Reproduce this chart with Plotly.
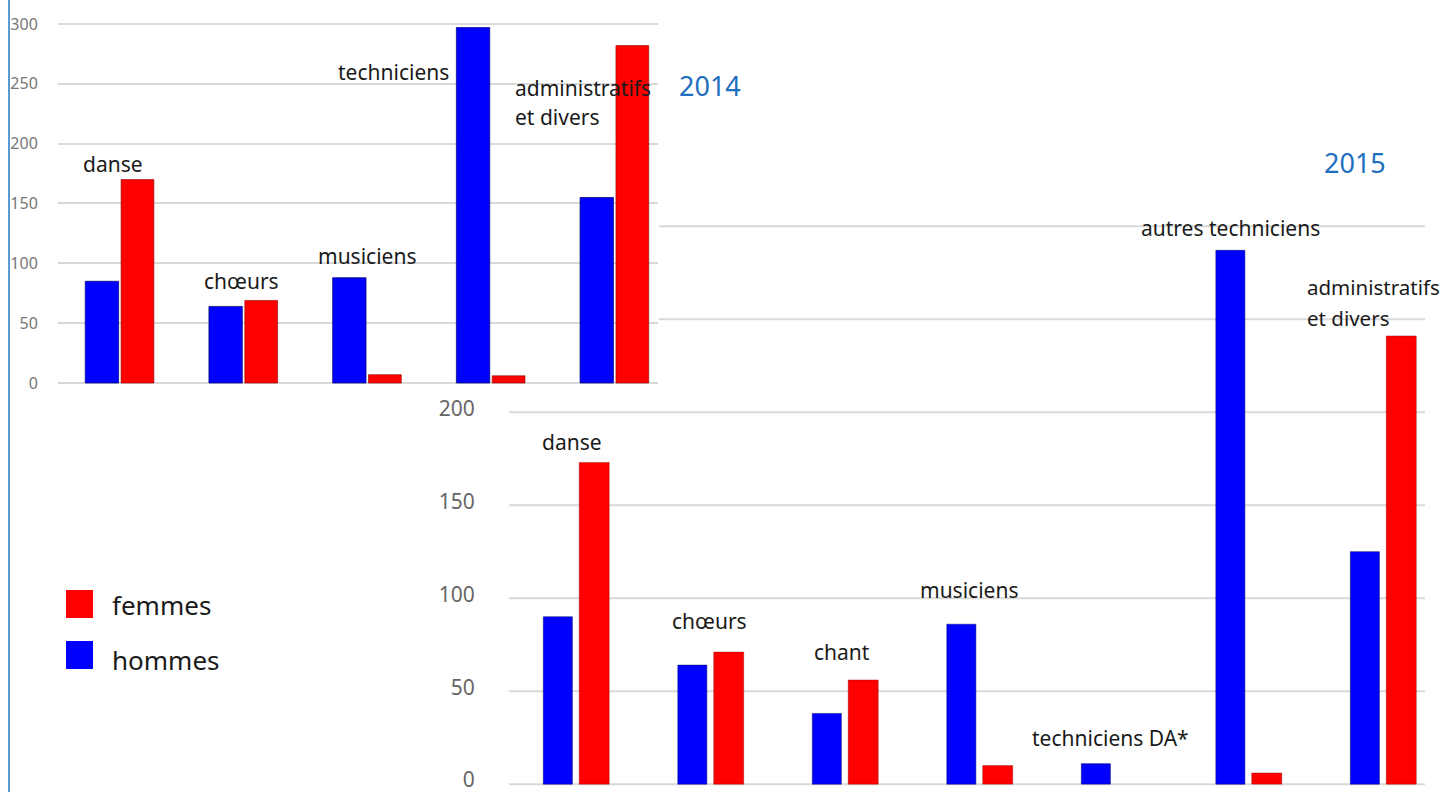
import plotly.graph_objects as go

# ---------------- data ----------------
cats_2014 = ["danse", "chœurs", "musiciens", "techniciens", "administratifs et divers"]
hommes_2014 = [85, 64, 88, 297, 155]
femmes_2014 = [170, 69, 7, 6, 282]

cats_2015 = ["danse", "chœurs", "chant", "musiciens", "techniciens DA*",
             "autres techniciens", "administratifs et divers"]
hommes_2015 = [90, 64, 38, 86, 11, 287, 125]
femmes_2015 = [173, 71, 56, 10, None, 6, 241]

ticks_2014 = [0, 50, 100, 150, 200, 250, 300]
ticks_2015 = [0, 50, 100, 150, 200]
grid_2015_upper = [250, 300]

BLUE = "#0000FF"
RED = "#FF0000"
W, H = 1445, 792
LABEL_FONT = "Noto Sans"


def px(x):
    return x / W


def py(y):
    return 1 - y / H


fig = go.Figure()

# 2014 chart (x2 / y2)
fig.add_trace(go.Bar(x=cats_2014, y=hommes_2014, name="hommes", xaxis="x2", yaxis="y2",
                     marker=dict(color=BLUE, line=dict(color="rgba(0,0,110,0.7)", width=1)),
                     offset=-0.28, width=0.27, showlegend=False))
fig.add_trace(go.Bar(x=cats_2014, y=femmes_2014, name="femmes", xaxis="x2", yaxis="y2",
                     marker=dict(color=RED, line=dict(color="rgba(140,0,0,0.6)", width=1)),
                     offset=0.01, width=0.265, showlegend=False))

# 2015 chart (x / y)
fig.add_trace(go.Bar(x=cats_2015, y=hommes_2015, name="hommes", xaxis="x", yaxis="y",
                     marker=dict(color=BLUE, line=dict(color="rgba(0,0,110,0.5)", width=1)),
                     offset=-0.245, width=0.216, showlegend=False))
fig.add_trace(go.Bar(x=cats_2015, y=femmes_2015, name="femmes", xaxis="x", yaxis="y",
                     marker=dict(color=RED, line=dict(color="rgba(140,0,0,0.4)", width=1)),
                     offset=0.022, width=0.223, showlegend=False))

shapes = []
# 2015 gridlines
for v in ticks_2015:
    shapes.append(dict(type="line", xref="x domain", yref="y", x0=0, x1=1, y0=v, y1=v,
                       line=dict(color="#d9d9d9", width=2), layer="below"))
for v in grid_2015_upper:
    shapes.append(dict(type="line", xref="x domain", yref="y", x0=(659 - 509) / (1425 - 509), x1=1,
                       y0=v, y1=v, line=dict(color="#d9d9d9", width=2), layer="below"))
# left border line
shapes.append(dict(type="line", xref="paper", yref="paper", x0=px(9), x1=px(9), y0=0, y1=1,
                   line=dict(color="#5B9BD5", width=2)))
# legend swatches
shapes.append(dict(type="rect", xref="paper", yref="paper", x0=px(66), x1=px(93), y0=py(618), y1=py(590),
                   fillcolor=RED, line=dict(width=0)))
shapes.append(dict(type="rect", xref="paper", yref="paper", x0=px(66), x1=px(93), y0=py(669), y1=py(641),
                   fillcolor=BLUE, line=dict(width=0)))

annotations = []


def lab(text, x, y, size=21, color="#1a1a1a", xanchor="center", family=LABEL_FONT):
    annotations.append(dict(text=text, x=px(x), y=py(y), xref="paper", yref="paper",
                            xanchor=xanchor, yanchor="middle", showarrow=False,
                            font=dict(family=family, size=size, color=color)))


# 2014 labels
lab("danse", 113, 164)
lab("chœurs", 241, 281)
lab("musiciens", 367, 256)
lab("techniciens", 393, 72)
lab("administratifs", 513, 88, xanchor="left")
lab("et divers", 513, 117, xanchor="left")
lab("2014", 710, 86, size=27, color="#1E6FC0")
# 2015 labels
lab("danse", 572, 442)
lab("chœurs", 709, 621)
lab("chant", 842, 652)
lab("musiciens", 969, 590)
lab("techniciens DA*", 1110, 738)
lab("autres techniciens", 1230, 228)
lab("administratifs", 1305, 287, xanchor="left", size=20.5)
lab("et divers", 1305, 318, xanchor="left", size=20.5)
lab("2015", 1355, 163, size=27, color="#1E6FC0")
# legend text
lab("femmes", 110, 605, size=26, xanchor="left")
lab("hommes", 110, 660, size=26, xanchor="left")

fig.update_layout(
    width=W, height=H,
    margin=dict(l=0, r=0, t=0, b=0, pad=0),
    paper_bgcolor="white", plot_bgcolor="rgba(0,0,0,0)",
    barmode="overlay",
    showlegend=False,
    shapes=shapes,
    annotations=annotations,
    # 2015
    xaxis=dict(domain=[px(509), px(1425)], range=[-0.5, 6.31], showticklabels=False,
               showgrid=False, zeroline=False, showline=False, automargin=False),
    yaxis=dict(domain=[py(786), py(189)], range=[-1, 320], tickvals=ticks_2015,
               showgrid=False, zeroline=False, showline=False, automargin=False,
               ticklabeloverflow="allow", ticklabelshift=-4,
               ticks="outside", ticklen=29, tickcolor="rgba(0,0,0,0)",
               tickfont=dict(family="Noto Sans", size=21, color="#666666")),
    # 2014
    xaxis2=dict(domain=[px(58), px(658)], range=[-0.5, 4.35], showticklabels=False,
                showgrid=False, zeroline=False, showline=False, anchor="y2", automargin=False),
    yaxis2=dict(domain=[py(384.2), py(18)], range=[-1, 305], tickvals=ticks_2014,
                showgrid=True, gridcolor="#d9d9d9", gridwidth=1.5, zeroline=False,
                anchor="x2", ticks="outside", ticklen=16, tickcolor="rgba(0,0,0,0)",
                automargin=False, ticklabeloverflow="allow",
                tickfont=dict(family="Noto Sans", size=16, color="#777777")),
)

fig.write_html("out.html", config={"displayModeBar": False},
               post_script="document.body.style.margin='0';document.body.style.overflow='hidden';")
